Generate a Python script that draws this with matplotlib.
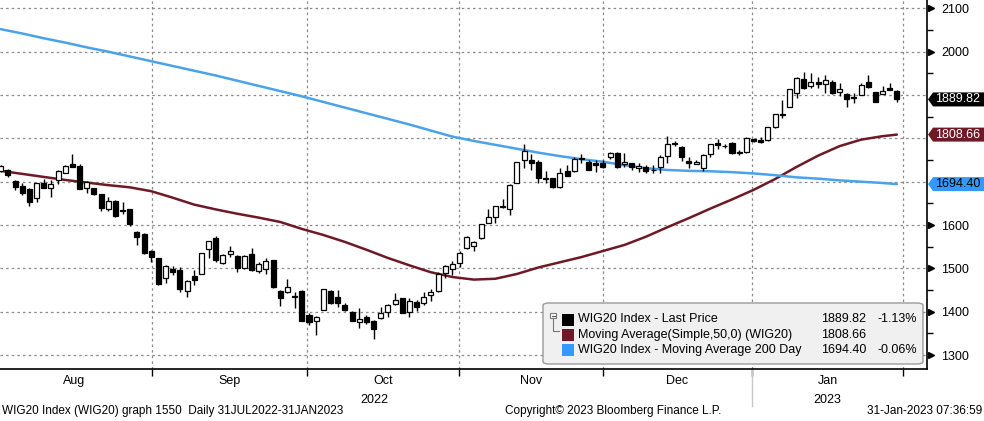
import matplotlib
matplotlib.use("Agg")
import matplotlib.pyplot as plt
import numpy as np
from matplotlib.patches import Polygon, FancyBboxPatch, Rectangle
from matplotlib.transforms import blended_transform_factory, IdentityTransform

plt.rcParams['font.family'] = ['Liberation Sans', 'DejaVu Sans']

# WIG20 daily candles, Aug 2022 - Jan 2023
opens = [1725, 1728, 1702, 1691, 1684, 1662, 1696, 1685, 1704, 1721, 1740, 1736, 1685, 1685, 1671, 1638, 1656, 1634, 1636, 1585, 1579, 1541,
         1524, 1477, 1498, 1496, 1447, 1482, 1488, 1545, 1569, 1512, 1534, 1528, 1500, 1533, 1494, 1498, 1519, 1448, 1445, 1435, 1448,
         1392, 1379, 1405, 1448, 1433, 1415, 1400, 1376, 1388, 1379, 1385, 1400, 1417, 1431, 1400, 1422, 1421, 1438, 1448, 1490, 1498, 1512,
         1546, 1552, 1569, 1605, 1618, 1644, 1638, 1698, 1750, 1750, 1746, 1709, 1708, 1687, 1725, 1725, 1754, 1746, 1742, 1744,
         1756, 1767, 1740, 1742, 1731, 1733, 1727, 1735, 1759, 1789, 1781, 1748, 1741, 1731, 1763, 1789, 1783, 1789, 1768, 1769,
         1798, 1796, 1796, 1826, 1856, 1873, 1904, 1936, 1921, 1931, 1925, 1929, 1906, 1902, 1895, 1900, 1929, 1906, 1902, 1917, 1910]
highs = [1738, 1729, 1703, 1698, 1686, 1698, 1706, 1704, 1726, 1738, 1764, 1741, 1702, 1686, 1672, 1665, 1657, 1652, 1637, 1586, 1582, 1542,
         1525, 1507, 1505, 1504, 1473, 1496, 1536, 1563, 1575, 1534, 1551, 1531, 1531, 1546, 1515, 1525, 1520, 1449, 1475, 1445, 1449,
         1396, 1389, 1453, 1450, 1450, 1419, 1401, 1408, 1392, 1381, 1410, 1418, 1442, 1432, 1431, 1426, 1446, 1452, 1492, 1507, 1518, 1539,
         1575, 1562, 1603, 1638, 1645, 1659, 1694, 1746, 1786, 1765, 1750, 1725, 1709, 1731, 1738, 1758, 1765, 1750, 1750, 1750,
         1768, 1768, 1766, 1744, 1742, 1739, 1739, 1761, 1805, 1795, 1782, 1756, 1751, 1763, 1788, 1798, 1788, 1792, 1772, 1802,
         1799, 1804, 1827, 1857, 1889, 1915, 1942, 1954, 1950, 1942, 1946, 1935, 1928, 1904, 1904, 1928, 1946, 1908, 1921, 1927, 1911]
lows = [1723, 1711, 1681, 1669, 1645, 1654, 1685, 1664, 1694, 1719, 1734, 1682, 1675, 1669, 1632, 1633, 1619, 1625, 1598, 1554, 1534, 1515,
        1462, 1467, 1485, 1446, 1434, 1461, 1487, 1523, 1515, 1510, 1527, 1491, 1499, 1495, 1490, 1488, 1455, 1414, 1444, 1408, 1378,
        1369, 1346, 1404, 1418, 1411, 1401, 1378, 1362, 1372, 1338, 1384, 1387, 1416, 1397, 1388, 1402, 1415, 1425, 1446, 1477, 1485, 1503,
        1545, 1541, 1568, 1604, 1605, 1640, 1623, 1697, 1731, 1728, 1696, 1696, 1686, 1686, 1713, 1722, 1742, 1727, 1723, 1731,
        1752, 1731, 1735, 1727, 1723, 1719, 1719, 1719, 1744, 1782, 1748, 1731, 1740, 1725, 1758, 1775, 1778, 1765, 1761, 1767,
        1792, 1789, 1795, 1824, 1846, 1872, 1892, 1914, 1916, 1916, 1904, 1902, 1898, 1873, 1882, 1899, 1916, 1883, 1902, 1911, 1885]
closes = [1736, 1715, 1688, 1675, 1652, 1696, 1685, 1695, 1725, 1736, 1735, 1682, 1699, 1672, 1640, 1656, 1620, 1632, 1602, 1573, 1535, 1526,
          1463, 1506, 1492, 1452, 1471, 1473, 1535, 1562, 1520, 1530, 1539, 1501, 1528, 1496, 1510, 1518, 1458, 1432, 1458, 1434, 1379,
          1377, 1387, 1452, 1419, 1419, 1405, 1379, 1382, 1377, 1359, 1398, 1415, 1428, 1398, 1425, 1411, 1433, 1445, 1487, 1505, 1509, 1536,
          1573, 1560, 1602, 1618, 1644, 1642, 1692, 1745, 1771, 1742, 1708, 1707, 1687, 1719, 1714, 1752, 1752, 1728, 1739, 1735,
          1767, 1733, 1746, 1735, 1736, 1725, 1726, 1756, 1787, 1788, 1758, 1742, 1745, 1762, 1787, 1784, 1782, 1767, 1767, 1800,
          1794, 1791, 1826, 1856, 1854, 1913, 1939, 1916, 1931, 1925, 1935, 1904, 1913, 1890, 1894, 1923, 1918, 1885, 1910, 1912, 1889.82]

# moving averages, read every 3 sessions
ma_days = list(range(0, 124, 3)) + [125]
ma50 = [1725, 1718, 1711, 1704, 1698, 1692, 1687, 1678, 1663, 1647,
        1636, 1626, 1617, 1607, 1591, 1577, 1561, 1543, 1524, 1507,
        1491, 1480, 1474, 1476, 1487, 1502, 1514, 1526, 1540, 1554,
        1573, 1595, 1616, 1638, 1659, 1681, 1706, 1734, 1760, 1782,
        1797, 1805, 1808.66]
ma200 = [2052, 2042, 2031, 2021, 2010, 2000, 1989, 1978, 1967, 1956,
         1945, 1933, 1921, 1909, 1897, 1884, 1871, 1858, 1845, 1832,
         1818, 1804, 1794, 1785, 1776, 1767, 1759, 1752, 1746, 1738,
         1731, 1727, 1725, 1724, 1722, 1719, 1715, 1710, 1707, 1703,
         1700, 1697, 1694.40]

months = ['Aug', 'Sep', 'Oct', 'Nov', 'Dec', 'Jan']
month_starts = [-0.6, 21.1, 42.7, 63.9, 84.0, 104.8, 125.9]
years = ['2022', '2023']

legend_rows = [('WIG20 Index - Last Price', '1889.82', '-1.13%'),
               ('Moving Average(Simple,50,0) (WIG20)', '1808.66', ''),
               ('WIG20 Index - Moving Average 200 Day', '1694.40', '-0.06%')]

c_ma50 = '#6e1a26'
c_ma200 = '#4aa3ea'
c_flag200 = '#3399ff'

W, H = 984, 421
fig = plt.figure(figsize=(W / 100, H / 100), dpi=100)
ax = fig.add_axes([0, 52 / H, 927 / W, 369 / H])

x = np.arange(len(opens))
o = np.array(opens); c = np.array(closes)
up = c >= o
body_lo = np.minimum(o, c)
body_h = np.maximum(np.abs(c - o), 1.5)

ax.vlines(x, lows, highs, color='black', lw=1, zorder=3)
ax.bar(x, body_h, bottom=body_lo, width=0.7,
       color=np.where(up, 'white', 'black'), edgecolor='black', lw=0.9, zorder=4)

ax.plot(ma_days, ma50, color=c_ma50, lw=1.8, zorder=2, solid_joinstyle='round', solid_capstyle='round')
ax.plot(ma_days, ma200, color=c_ma200, lw=1.8, zorder=2, solid_joinstyle='round', solid_capstyle='round')

ax.set_xlim(-0.1, 129.2)
ax.set_ylim(1267.7, 2119.3)

# grid
for v in range(1300, 2101, 100):
    ax.axhline(v, color='#8a8a8a', lw=0.9, ls=(0, (2, 2.5)), zorder=1)
for m in month_starts[1:]:
    ax.axvline(m, color='#8a8a8a', lw=0.9, ls=(0, (2, 2.5)), zorder=1)

for s in ['left', 'top']:
    ax.spines[s].set_visible(False)
for s in ['right', 'bottom']:
    ax.spines[s].set_linewidth(1.2)

# x axis: month boundary ticks, month names between
ax.set_xticks(month_starts[1:])
ax.set_xticklabels([])
ax.tick_params(axis='x', which='major', length=5, width=1, direction='out')
mids = [(a + b) / 2 for a, b in zip(month_starts[:-1], month_starts[1:])]
ax.set_xticks(mids, minor=True)
ax.set_xticklabels(months, minor=True, fontsize=9)
ax.tick_params(axis='x', which='minor', length=0, pad=4)

trans = blended_transform_factory(ax.transData, ax.transAxes)
ax.text((month_starts[0] + month_starts[5]) / 2, -0.085, years[0], transform=trans,
        ha='center', va='center', fontsize=9)
ax.text((month_starts[5] + month_starts[6]) / 2, -0.085, years[1], transform=trans,
        ha='center', va='center', fontsize=9)
ax.plot([month_starts[5]] * 2, [0, -0.1], transform=trans, color='#c8c8c8', lw=1, clip_on=False)

# y axis on the right
ax.yaxis.tick_right()
yt = list(range(1300, 2101, 100))
ax.set_yticks(yt)
ax.set_yticklabels([str(v) if v not in (1700, 1800, 1900) else '' for v in yt], fontsize=9)
ax.tick_params(axis='y', which='major', length=0, pad=10)
ax.set_yticks(list(range(1350, 2101, 100)), minor=True)
ax.tick_params(axis='y', which='minor', length=4, width=1, direction='out')
ytr = blended_transform_factory(ax.transAxes, ax.transData)
for v in yt:
    if v not in (1700, 1800, 1900):
        ax.plot(1.0045, v, marker='>', ms=5, color='black', transform=ytr, clip_on=False)

# value flags on the right
fig.canvas.draw()
for val, fc, tc in [(1889.82, 'black', 'white'), (1808.66, c_ma50, 'white'), (1694.40, c_flag200, 'black')]:
    yd = ax.transData.transform((0, val))[1]
    x0 = ax.transAxes.transform((1, 0))[0]
    pts = [(x0 + 1, yd), (x0 + 6, yd + 7), (W, yd + 7), (W, yd - 7), (x0 + 6, yd - 7)]
    fig.patches.append(Polygon(pts, closed=True, facecolor=fc, edgecolor='none',
                               transform=IdentityTransform(), figure=fig))
    fig.text((x0 + 8) / W, yd / H, f'{val:.2f}', color=tc, fontsize=9, va='center', ha='left')

# legend box
def fx(px):
    return px / W

def fy(py):
    return 1 - py / H

fig.patches.append(FancyBboxPatch((fx(543), fy(364)), fx(923) - fx(543), fy(303) - fy(364),
                                  boxstyle='round,pad=0,rounding_size=0.006',
                                  facecolor='#f0f0f0', edgecolor='#9a9a9a', lw=1,
                                  transform=fig.transFigure, figure=fig, zorder=5))
# tree icon
fig.patches.append(Rectangle((fx(550), fy(318)), fx(6), 5 / H, facecolor='white',
                             edgecolor='#777777', lw=0.8, transform=fig.transFigure, figure=fig, zorder=6))
fig.lines.append(plt.Line2D([fx(551.5), fx(554.5)], [fy(315.5)] * 2, color='#555555', lw=0.8,
                            transform=fig.transFigure, figure=fig, zorder=7))
fig.lines.append(plt.Line2D([fx(553), fx(553), fx(559)], [fy(318), fy(331), fy(331)], color='#777777',
                            lw=0.8, transform=fig.transFigure, figure=fig, zorder=6))
sq_colors = ['black', c_ma50, c_flag200]
for k, (name, val, chg) in enumerate(legend_rows):
    yc = 319.5 + k * 15.3
    fig.patches.append(Rectangle((fx(562), fy(yc + 6)), fx(12), 12 / H, facecolor=sq_colors[k],
                                 edgecolor='none', transform=fig.transFigure, figure=fig, zorder=6))
    fig.text(fx(578), fy(yc), name, fontsize=9, va='center', ha='left', zorder=7)
    fig.text(fx(866), fy(yc), val, fontsize=9, va='center', ha='right', zorder=7)
    if chg:
        fig.text(fx(917), fy(yc), chg, fontsize=9, va='center', ha='right', zorder=7)

# footer
fig.text(fx(2), fy(411), 'WIG20 Index (WIG20) graph 1550  Daily 31JUL2022-31JAN2023',
         fontsize=8.5, va='center', ha='left')
fig.text(fx(613), fy(411), 'Copyright\u00a9 2023 Bloomberg Finance L.P.', fontsize=8.5,
         va='center', ha='center')
fig.text(fx(982), fy(411), '31-Jan-2023 07:36:59', fontsize=8.5, va='center', ha='right')

fig.savefig('out.png', dpi=100, facecolor='white')
